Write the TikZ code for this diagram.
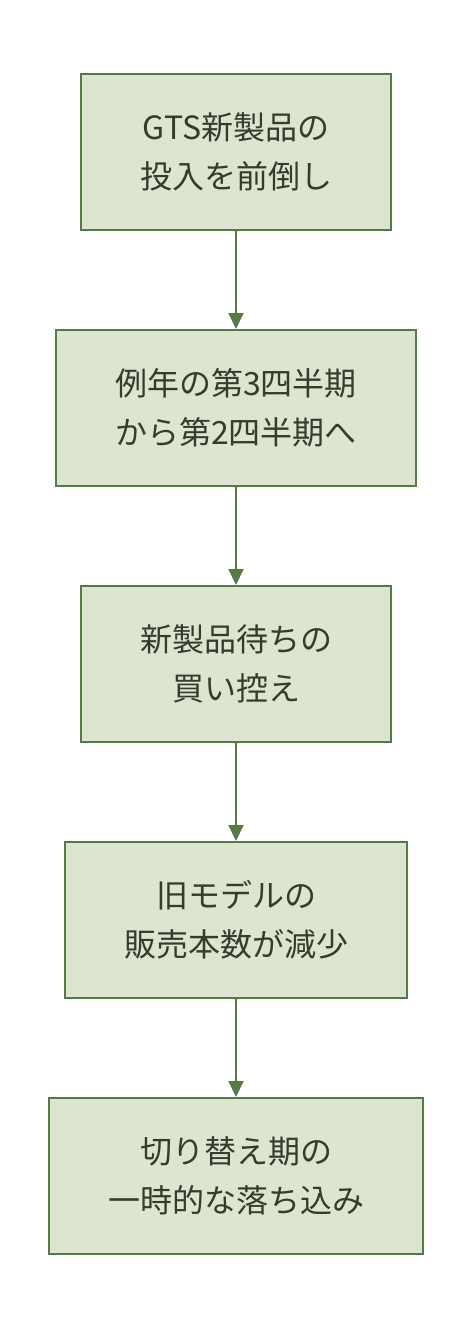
\documentclass[tikz,border=0pt]{standalone}
\usepackage{fontspec}
\setmainfont{Noto Sans CJK JP}
\usepackage{xcolor}
\usepackage{tikz}
\usetikzlibrary{arrows.meta,positioning}
\definecolor{linec}{HTML}{577A48}
\definecolor{boxbg}{HTML}{DDE5D0}
\definecolor{textc}{HTML}{333D2E}
\tikzset{
  ar/.style={-{Triangle[length=16pt,width=15pt]},line width=2pt,linec},
  box/.style={draw=linec,line width=2pt,fill=boxbg,text=textc,align=center,
    inner xsep=59pt,minimum height=156pt,font=\fontsize{32}{49}\selectfont}
}
\begin{document}
\begin{tikzpicture}[x=1pt,y=1pt,node distance=98pt]
\useasboundingbox (0,0) rectangle (472,-1332);
\node[box] (gts) at (236,-152) {GTS新製品の\\投入を前倒し};
\node[box,below=of gts] (shift) {例年の第3四半期\\から第2四半期へ};
\node[box,below=of shift] (wait) {新製品待ちの\\買い控え};
\node[box,below=of wait] (oldm) {旧モデルの\\販売本数が減少};
\node[box,below=of oldm] (dip) {切り替え期の\\一時的な落ち込み};
\draw[ar] (gts) -- (shift);
\draw[ar] (shift) -- (wait);
\draw[ar] (wait) -- (oldm);
\draw[ar] (oldm) -- (dip);
\end{tikzpicture}
\end{document}
